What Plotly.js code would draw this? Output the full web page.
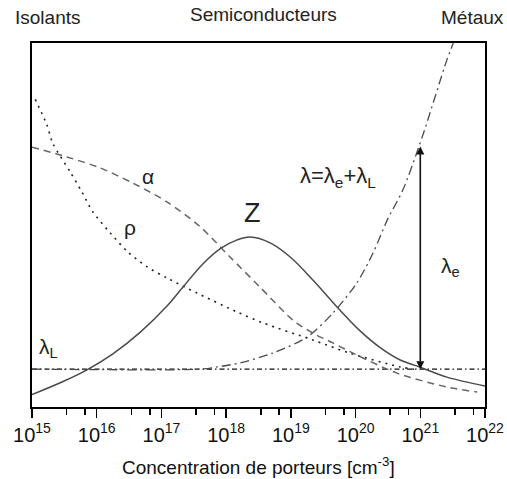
<!DOCTYPE html>
<html>
<head>
<meta charset="utf-8">
<script src="https://cdn.plot.ly/plotly-3.0.1.min.js"></script>
<style>html,body{margin:0;padding:0;background:#fff;}#chart{width:507px;height:479px;}</style>
</head>
<body>
<div id="chart"></div>
<script>
// x values are log10 of carrier concentration (cm^-3)
const decades = [15, 16, 17, 18, 19, 20, 21, 22];
const tickLabels = ['10<sup>15</sup>', '10<sup>16</sup>', '10<sup>17</sup>', '10<sup>18</sup>',
                    '10<sup>19</sup>', '10<sup>20</sup>', '10<sup>21</sup>', '10<sup>22</sup>'];
const minorOffsets = [0.535, 0.82];

const zX = [15.00, 15.48, 15.85, 16.25, 16.67, 17.09, 17.33, 17.64, 17.91, 18.17, 18.37, 18.68, 18.99, 19.34, 19.76, 20.07, 20.38, 20.69, 20.99, 21.41, 22.00];
const zY = [3.4, 7.0, 10.2, 14.6, 20.5, 27.8, 32.9, 39.3, 43.5, 45.9, 46.7, 45.1, 41.2, 34.9, 26.6, 20.9, 16.3, 12.9, 11.0, 8.2, 5.8];

const alphaX = [15.00, 15.54, 16.05, 16.56, 17.09, 17.60, 18.06, 18.52, 19.03, 19.34, 19.65, 19.96, 20.64, 21.41, 21.88];
const alphaY = [71.4, 68.7, 65.7, 61.5, 56.3, 49.5, 41.2, 33.0, 23.9, 20.3, 17.6, 14.8, 9.3, 5.5, 4.1];

const rhoX = [15.05, 15.23, 15.32, 15.59, 15.77, 15.94, 16.21, 16.48, 16.78, 17.09, 17.55, 18.17, 18.57, 19.34, 19.91, 20.69, 20.99];
const rhoY = [84.5, 77.5, 72.5, 64.6, 59.1, 53.6, 47.8, 42.6, 38.5, 35.4, 31.3, 26.1, 23.1, 18.4, 14.8, 11.0, 10.2];

const lambdaX = [15.00, 17.60, 17.86, 18.21, 18.72, 19.25, 19.65, 20.02, 20.27, 20.49, 20.73, 21.03, 21.41, 21.51];
const lambdaY = [10.4, 10.4, 11.0, 12.1, 14.8, 19.2, 25.8, 34.1, 42.3, 51.4, 59.6, 74.2, 95.3, 100.0];

const lambdaLX = [15.0, 22.0];
const lambdaLY = [10.4, 10.4];

const arrowX = 21.0;
const arrowTop = 72.0;
const arrowBottom = 10.4;

const lineColor = '#4a4a4a';
const font = 'Liberation Sans, Arial, sans-serif';

const minorVals = [];
decades.slice(0, -1).forEach(d => minorOffsets.forEach(o => minorVals.push(d + o)));

const traces = [
  {x: lambdaLX, y: lambdaLY, mode: 'lines', line: {color: '#111', width: 1.3, dash: '5px,3px,1.5px,3px'}, hoverinfo: 'skip'},
  {x: lambdaX, y: lambdaY, mode: 'lines', line: {color: lineColor, width: 1.3, dash: '9px,4px,2px,4px', shape: 'spline', smoothing: 0.8}, hoverinfo: 'skip'},
  {x: rhoX, y: rhoY, mode: 'lines', line: {color: '#222', width: 1.6, dash: '2px,5px', shape: 'spline', smoothing: 0.8}, hoverinfo: 'skip'},
  {x: alphaX, y: alphaY, mode: 'lines', line: {color: '#666', width: 1.5, dash: '7px,5px', shape: 'spline', smoothing: 0.8}, hoverinfo: 'skip'},
  {x: zX, y: zY, mode: 'lines', line: {color: lineColor, width: 1.5, shape: 'spline', smoothing: 1}, hoverinfo: 'skip'}
];

const txt = (x, y, text, size, extra) => Object.assign({x: x, y: y, xref: 'x', yref: 'y', text: text, showarrow: false,
  font: {family: font, size: size, color: '#222'}}, extra || {});

const layout = {
  width: 507, height: 479,
  margin: {l: 32, r: 22, t: 43, b: 72},
  paper_bgcolor: '#fff', plot_bgcolor: '#fff',
  showlegend: false,
  xaxis: {
    range: [15, 22], showgrid: false, zeroline: false,
    showline: true, linecolor: '#000', linewidth: 1.6, mirror: true,
    ticks: 'outside', ticklen: 9, tickwidth: 1.5, tickcolor: '#000',
    tickmode: 'array', tickvals: decades, ticktext: tickLabels,
    tickfont: {family: font, size: 20, color: '#111'},
    minor: {tickmode: 'array', tickvals: minorVals, ticks: 'outside', ticklen: 6, tickwidth: 1.5, tickcolor: '#000', showgrid: false}
  },
  yaxis: {
    range: [0, 100], showgrid: false, zeroline: false, showticklabels: false, ticks: '',
    showline: true, linecolor: '#000', linewidth: 1.6, mirror: true
  },
  annotations: [
    txt(16.79, 63.2, 'α', 21),
    txt(16.51, 49.2, 'ρ', 21),
    txt(18.40, 53.3, 'Z', 27),
    txt(19.73, 63.2, 'λ=λ<sub>e</sub>+λ<sub>L</sub>', 22),
    txt(21.46, 38.5, 'λ<sub>e</sub>', 21),
    txt(15.25, 16.2, 'λ<sub>L</sub>', 21),
    {x: arrowX, y: arrowBottom, ax: arrowX, ay: arrowTop, xref: 'x', yref: 'y', axref: 'x', ayref: 'y',
     showarrow: true, arrowhead: 2, arrowside: 'end+start', arrowsize: 1, arrowwidth: 1.6, arrowcolor: '#111', text: ''},
    {x: -0.042, y: 1.069, xref: 'paper', yref: 'paper', xanchor: 'left', yanchor: 'middle', showarrow: false,
     text: 'Isolants', font: {family: font, size: 19, color: '#222'}},
    {x: 0.51, y: 1.077, xref: 'paper', yref: 'paper', xanchor: 'center', yanchor: 'middle', showarrow: false,
     text: 'Semiconducteurs', font: {family: font, size: 19, color: '#222'}},
    {x: 1.046, y: 1.069, xref: 'paper', yref: 'paper', xanchor: 'right', yanchor: 'middle', showarrow: false,
     text: 'Métaux', font: {family: font, size: 19, color: '#222'}},
    {x: 0.5, y: -0.163, xref: 'paper', yref: 'paper', xanchor: 'center', yanchor: 'middle', showarrow: false,
     text: 'Concentration de porteurs [cm<sup>-3</sup>]', font: {family: font, size: 19, color: '#111'}}
  ]
};

Plotly.newPlot('chart', traces, layout, {staticPlot: true, displayModeBar: false});
</script>
</body>
</html>
